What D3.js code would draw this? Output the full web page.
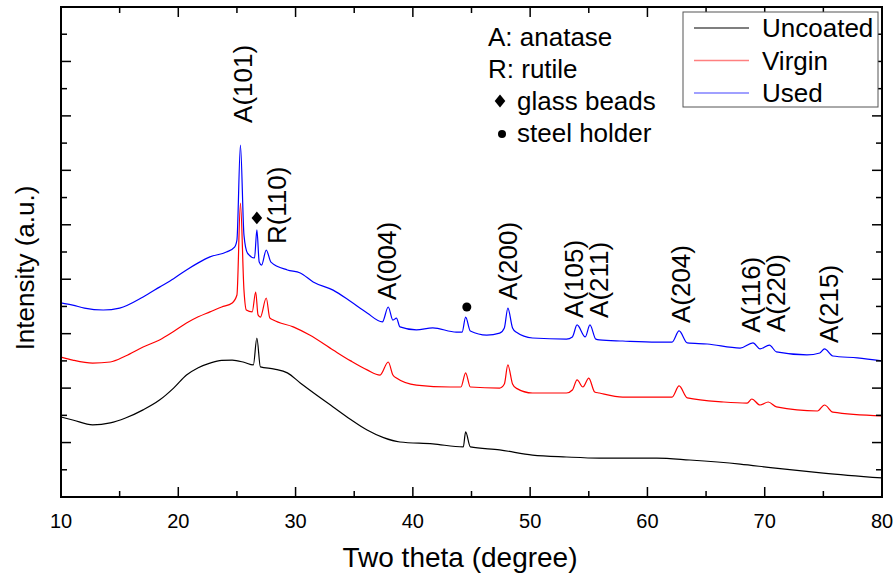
<!DOCTYPE html>
<html lang="en">
<head>
<meta charset="UTF-8">
<title>XRD patterns</title>
<script src="https://cdn.jsdelivr.net/npm/d3@7"></script>
<style>
  body { margin: 0; background: #fff; }
  text { font-family: "Liberation Sans", Arial, sans-serif; fill: #000; }
</style>
</head>
<body>
<script>
// [two theta, intensity (a.u.)]
const uncoated = [
  [10, 2.94], [11, 2.83], [12.7, 2.65], [14.2, 2.72], [15.5, 2.90], [17, 3.20],
  [18.4, 3.56], [19.6, 4.00], [20.7, 4.48], [21.7, 4.75], [22.7, 4.92], [23.7, 5.02],
  [24.6, 5.03], [25.6, 4.95], [26.4, 4.85], [26.7, 5.84], [27.0, 4.78], [28.2, 4.70],
  [29.3, 4.56], [30.4, 4.19], [31.2, 3.93], [33.2, 3.31], [34.7, 2.85], [36.1, 2.46],
  [37.5, 2.18], [38.9, 2.02], [41.7, 1.95], [44.3, 1.84], [44.5, 2.39], [44.9, 1.84],
  [47.4, 1.73], [50.2, 1.54], [53.1, 1.47], [55.9, 1.43], [60.8, 1.43], [63.6, 1.36],
  [67.9, 1.21], [70.7, 1.07], [75, 0.88], [80, 0.70]
];
const virgin = [
  [10, 5.14], [11, 5.03], [12.7, 4.92], [14.2, 4.96], [15.5, 5.18], [17, 5.51],
  [18.4, 5.77], [19.6, 6.08], [20.7, 6.39], [21.7, 6.62], [22.7, 6.80], [23.7, 6.98],
  [24.6, 7.13], [25.0, 7.42], [25.3, 10.80], [25.6, 7.60], [25.8, 6.87], [26.3, 6.80],
  [26.6, 7.53], [26.8, 6.69], [27.0, 6.61], [27.5, 7.31], [27.8, 6.58], [28.1, 6.50],
  [29.8, 6.25], [31.2, 5.95], [33.2, 5.40], [34.7, 5.00], [36.1, 4.67], [37.2, 4.48],
  [37.9, 4.96], [38.3, 4.48], [38.6, 4.37], [40.3, 4.11], [43.2, 4.04], [44.1, 4.04],
  [44.5, 4.56], [44.9, 4.04], [47.4, 4.00], [47.8, 4.15], [48.1, 4.85], [48.5, 4.15],
  [48.8, 4.00], [50.2, 3.82], [53.1, 3.82], [53.6, 3.93], [54.0, 4.30], [54.5, 4.04],
  [55.0, 4.37], [55.5, 3.86], [55.9, 3.82], [57.9, 3.67], [62.1, 3.67], [62.7, 4.08],
  [63.4, 3.64], [66.5, 3.49], [68.5, 3.45], [68.9, 3.60], [69.6, 3.38], [70.3, 3.49],
  [71.0, 3.31], [74.5, 3.16], [75.1, 3.38], [75.8, 3.12], [80, 2.98]
];
const used = [
  [10, 7.13], [11, 7.05], [12, 6.94], [13.6, 6.87], [15, 6.94], [17, 7.35],
  [18.4, 7.71], [19.6, 8.02], [20.7, 8.34], [21.7, 8.60], [22.7, 8.82], [24.1, 9.00],
  [24.8, 9.18], [25.0, 9.44], [25.3, 12.93], [25.6, 9.62], [25.9, 8.96], [26.5, 8.78],
  [26.7, 9.81], [26.9, 8.63], [27.1, 8.52], [27.5, 9.07], [27.9, 8.63], [29.3, 8.34],
  [30.4, 8.23], [31.5, 7.90], [33.2, 7.60], [34.7, 7.18], [36.1, 6.76], [37.4, 6.43],
  [37.9, 6.98], [38.3, 6.50], [38.6, 6.57], [38.9, 6.25], [40.3, 6.14], [41.7, 6.21],
  [43.7, 6.06], [44.2, 6.06], [44.5, 6.61], [44.9, 6.10], [46.3, 5.95], [47.4, 6.02],
  [47.8, 6.21], [48.1, 6.94], [48.5, 6.21], [48.8, 6.06], [50.2, 5.84], [53.1, 5.80],
  [53.6, 5.88], [54.0, 6.32], [54.7, 5.88], [55.1, 6.32], [55.6, 5.80], [55.9, 5.77],
  [57.9, 5.73], [60.8, 5.69], [62.1, 5.69], [62.7, 6.10], [63.4, 5.66], [65.1, 5.62],
  [67.9, 5.47], [69.0, 5.66], [69.6, 5.44], [70.4, 5.58], [71.0, 5.33], [73.6, 5.22],
  [74.7, 5.29], [75.1, 5.44], [75.8, 5.18], [77.9, 5.11], [80, 5.00]
];

const seriesNames = ['Uncoated', 'Virgin', 'Used'];
const xTickLabels = [10, 20, 30, 40, 50, 60, 70, 80];

// peak labels: text, two theta, intensity at the foot of the label
const peakNames = ['A(101)', 'R(110)', 'A(004)', 'A(200)', 'A(105)', 'A(211)', 'A(204)', 'A(116)', 'A(220)', 'A(215)'];
const peakTheta = [25.5, 28.4, 37.8, 48.1, 53.7, 55.9, 62.9, 68.8, 71.0, 75.5];
const peakFoot = [13.74, 9.29, 7.24, 7.24, 6.58, 6.58, 6.39, 6.03, 6.06, 5.66];

const glassBead = [26.7, 10.25];
const steelHolder = [44.6, 6.98];

const notes = ['A: anatase', 'R: rutile', 'glass beads', 'steel holder'];

// layout
const W = 895, H = 576;
const margin = { top: 7, right: 13, bottom: 79, left: 61 };
const colors = ['#000000', '#ff0000', '#0000ff'];
const legendColors = ['#555555', '#ff8080', '#8080ff'];

const svg = d3.select('body').append('svg')
  .attr('width', W)
  .attr('height', H);

const x = d3.scaleLinear().domain([10, 80]).range([margin.left, W - margin.right]);
const y = d3.scaleLinear().domain([0, 18]).range([H - margin.bottom, margin.top]);

// curves
const line = d3.line()
  .x(d => x(d[0]))
  .y(d => y(d[1]))
  .curve(d3.curveMonotoneX);
[uncoated, virgin, used].forEach((s, i) => {
  svg.append('path')
    .datum(s)
    .attr('fill', 'none')
    .attr('stroke', colors[i])
    .attr('stroke-width', 1.2)
    .attr('stroke-linejoin', 'round')
    .attr('d', line);
});

// frame and ticks (all ticks point inwards)
const x0 = x(10), x1 = x(80), y0 = y(0), y1 = y(18);

svg.append('rect')
  .attr('x', x0).attr('y', y1)
  .attr('width', x1 - x0).attr('height', y0 - y1)
  .attr('fill', 'none').attr('stroke', '#000').attr('stroke-width', 2);

const tickG = svg.append('g').attr('stroke', '#000').attr('stroke-width', 1.5);
d3.range(15, 80, 5).forEach(v => {
  const len = v % 10 === 0 ? 10 : 6;
  tickG.append('line').attr('x1', x(v)).attr('x2', x(v)).attr('y1', y0).attr('y2', y0 - len);
  tickG.append('line').attr('x1', x(v)).attr('x2', x(v)).attr('y1', y1).attr('y2', y1 + len);
});
d3.range(1, 18).forEach(v => {
  const len = v % 2 === 0 ? 10 : 6;
  tickG.append('line').attr('x1', x0).attr('x2', x0 + len).attr('y1', y(v)).attr('y2', y(v));
  tickG.append('line').attr('x1', x1).attr('x2', x1 - len).attr('y1', y(v)).attr('y2', y(v));
});

svg.append('g').selectAll('text')
  .data(xTickLabels)
  .enter().append('text')
  .attr('x', d => x(d))
  .attr('y', y0 + 31)
  .attr('text-anchor', 'middle')
  .style('font-size', '20px')
  .text(d => d);

// axis titles
svg.append('text')
  .attr('x', 460)
  .attr('y', 567)
  .attr('text-anchor', 'middle')
  .style('font-size', '28px')
  .text('Two theta (degree)');

svg.append('text')
  .attr('transform', `translate(34, ${(y0 + y1) / 2 + 16}) rotate(-90)`)
  .attr('text-anchor', 'middle')
  .style('font-size', '26px')
  .text('Intensity (a.u.)');

// peak labels
svg.append('g').selectAll('text')
  .data(peakNames)
  .enter().append('text')
  .attr('transform', (d, i) => `translate(${x(peakTheta[i]) + 9}, ${y(peakFoot[i])}) rotate(-90)`)
  .style('font-size', '26px')
  .text(d => d);

const diamond = d3.symbol(d3.symbolDiamond2, 72)();

svg.append('path')
  .attr('d', diamond)
  .attr('transform', `translate(${x(glassBead[0])}, ${y(glassBead[1])}) scale(1, 1.2)`)
  .attr('fill', '#000');

svg.append('circle')
  .attr('cx', x(steelHolder[0]))
  .attr('cy', y(steelHolder[1]))
  .attr('r', 4.5)
  .attr('fill', '#000');

// notes block
const noteG = svg.append('g').attr('transform', 'translate(488, 46)');
notes.forEach((t, i) => {
  noteG.append('text')
    .attr('x', i < 2 ? 0 : 29)
    .attr('y', i * 32)
    .style('font-size', '26px')
    .text(t);
});
noteG.append('path')
  .attr('d', diamond)
  .attr('transform', 'translate(12, 55) scale(1, 1.2)')
  .attr('fill', '#000');
noteG.append('circle')
  .attr('cx', 14).attr('cy', 88).attr('r', 4)
  .attr('fill', '#000');

// legend
const legend = svg.append('g');
legend.append('rect')
  .attr('x', 683).attr('y', 12)
  .attr('width', 195).attr('height', 95)
  .attr('fill', '#fff')
  .attr('stroke', '#555')
  .attr('stroke-width', 1);
seriesNames.forEach((name, i) => {
  const ly = 28 + i * 32.5;
  legend.append('line')
    .attr('x1', 694).attr('x2', 749)
    .attr('y1', ly).attr('y2', ly)
    .attr('stroke', legendColors[i])
    .attr('stroke-width', 1.5);
  legend.append('text')
    .attr('x', 762)
    .attr('y', ly + 9)
    .style('font-size', '26px')
    .text(name);
});
</script>
</body>
</html>
